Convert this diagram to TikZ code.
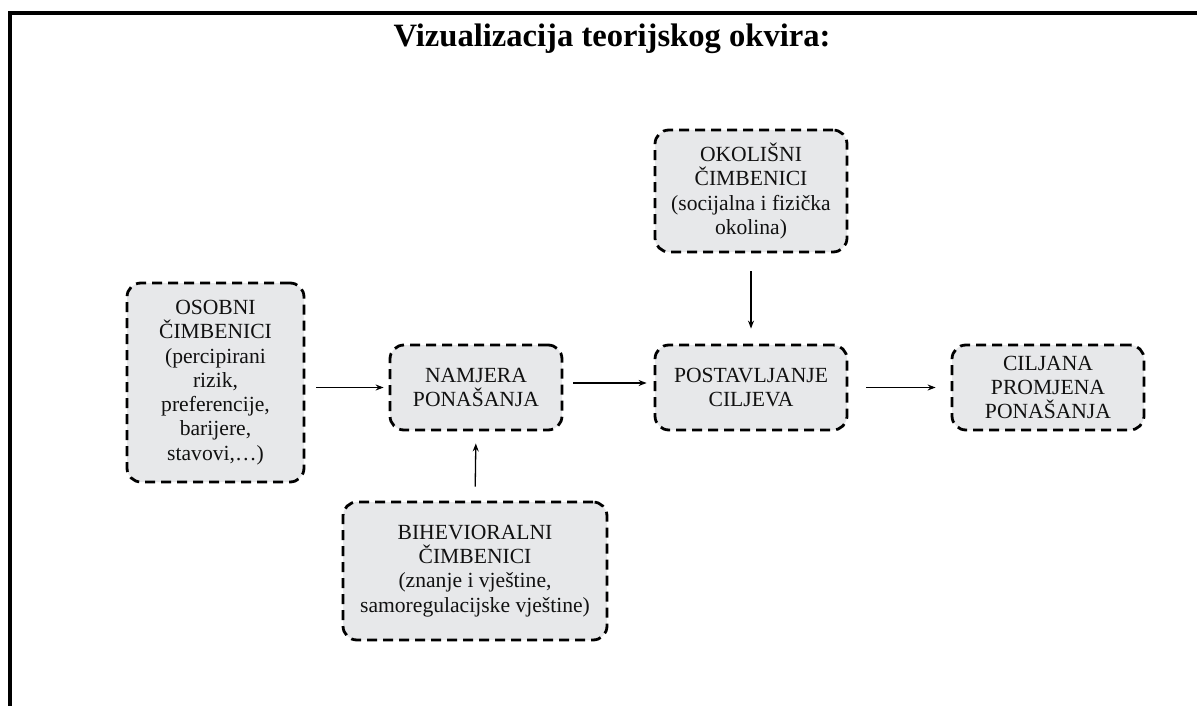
\documentclass[tikz,border=0pt]{standalone}
\usepackage{fontspec}
\setmainfont{Liberation Serif}
\usetikzlibrary{arrows.meta}
\definecolor{boxfill}{HTML}{E7E8EA}
\definecolor{txt}{HTML}{111111}
\begin{document}
\begin{tikzpicture}[x=1pt,y=1pt,
  box/.style={draw=black, fill=boxfill, line width=2.8pt, dash pattern=on 10pt off 6pt,
    rounded corners=14pt, align=center, text=txt, inner sep=0pt,
    font=\fontsize{21.6}{24.3}\selectfont},
  arr/.style={draw=black, line width=1.3pt, -{Stealth[length=8pt,width=6pt]}}]
\useasboundingbox (0,0) rectangle (1197,-706);
\draw[line width=4pt] (1197,-13) -- (10,-13) -- (10,-706);
\node[font=\bfseries\fontsize{32.6}{36}\selectfont, anchor=base, inner sep=0pt] (title) at (612,-47) {Vizualizacija teorijskog okvira:};
\node[box, minimum width=192pt, minimum height=122pt] (oko) at (751,-191) {OKOLIŠNI\\ČIMBENICI\\(socijalna i fizička\\okolina)};
\node[box, minimum width=192pt, minimum height=85pt] (post) at (751,-387.5) {POSTAVLJANJE\\CILJEVA};
\node[box, minimum width=172pt, minimum height=85pt] (nam) at (476,-387.5) {NAMJERA\\PONAŠANJA};
\node[box, minimum width=177pt, minimum height=199pt] (oso) at (215.5,-382.5) {OSOBNI\\ČIMBENICI\\(percipirani\\rizik,\\preferencije,\\barijere,\\stavovi,…)};
\node[box, minimum width=264pt, minimum height=138pt] (bih) at (475,-571) {BIHEVIORALNI\\ČIMBENICI\\(znanje i vještine,\\samoregulacijske vještine)};
\node[box, minimum width=192pt, minimum height=85pt] (cil) at (1048,-387.5) {CILJANA\\PROMJENA\\PONAŠANJA};
\draw[arr, shorten <=11pt, shorten >=5pt] (oso.east |- nam.west) -- (nam.west);
\draw[arr, shorten <=10pt, shorten >=7pt] ([yshift=4.5pt]nam.east) -- ([yshift=4.5pt]post.west);
\draw[arr, shorten <=18pt, shorten >=15pt] (post.east) -- (cil.west);
\draw[arr, shorten <=18pt, shorten >=15pt] (oko.south) -- (post.north);
\draw[arr, shorten <=14pt, shorten >=12pt] (bih.north) -- (nam.south);
\end{tikzpicture}
\end{document}
